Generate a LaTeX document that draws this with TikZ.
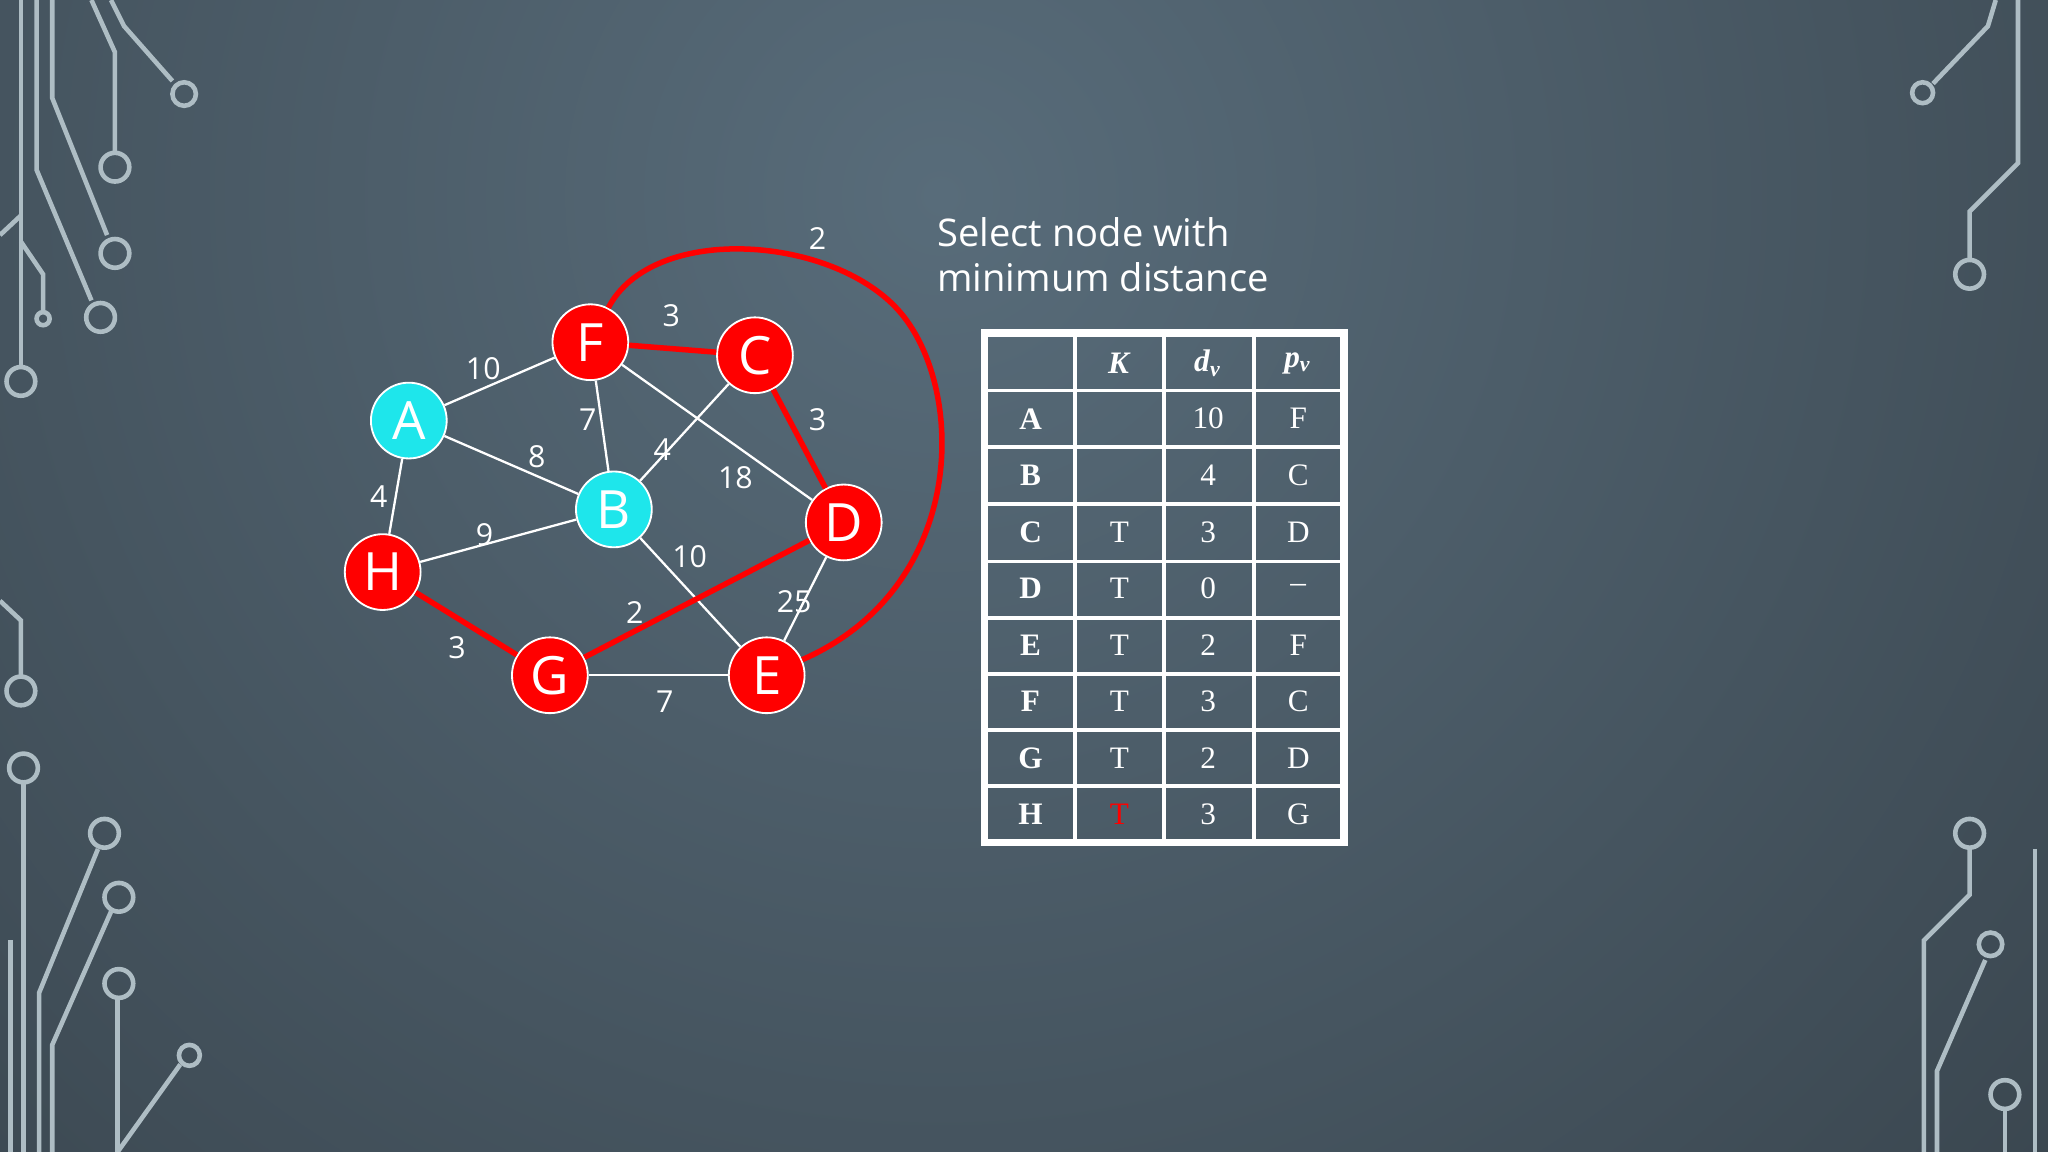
\documentclass[tikz,border=0pt]{standalone}
\usepackage{fontspec}
\setmainfont{Liberation Serif}
\newfontfamily\sans{Open Sans}
\definecolor{bgout}{RGB}{28,32,36}
\definecolor{bgin}{RGB}{88,108,122}
\definecolor{cyv}{RGB}{30,230,235}
\begin{document}
\begin{tikzpicture}[x=0.01cm,y=-0.01cm,
 vtx/.style={circle,draw=white,line width=0.4pt,minimum size=16.5pt,inner sep=0,text=white,font=\sans\fontsize{11.5}{12}\selectfont},
 rd/.style={vtx,fill=red},
 cy/.style={vtx,fill=cyv},
 wl/.style={white,line width=0.5pt},
 rl/.style={red,line width=1.2pt},
 lb/.style={text=white,font=\sans\fontsize{6.6}{7}\selectfont,inner sep=0},
 deco/.style={gray!50!cyan!30!white!80!black,line width=1pt},
 dc/.style={deco,fill=none},
 cell/.style={text=white,font=\fontsize{6.8}{8}\selectfont,inner sep=0}]
\useasboundingbox (0,0) rectangle (1568,882);
\begin{scope}
\clip (0,0) rectangle (1568,882);
\fill[bgout] (0,0) rectangle (1568,882);
\shade[inner color=bgin,outer color=bgout] (720,150) circle (2300);
\end{scope}
% circuit decorations
\draw[deco] (16,0)--(16,280); \draw[dc] (16,292) circle (11);
\draw[deco] (28,0)--(28,130)--(70,230); \draw[dc] (77,243) circle (11);
\draw[deco] (40,0)--(40,75)--(82,180); \draw[dc] (88,194) circle (11);
\draw[deco] (70,0)--(88,40)--(88,116); \draw[dc] (88,128) circle (11);
\draw[deco] (85,0)--(95,20)--(132,62); \draw[dc] (141,72) circle (9);
\draw[deco] (0,180)--(16,165); \draw[deco] (16,185)--(33,210)--(33,240); \draw[dc] (33,244) circle (5);
\draw[deco] (0,460)--(16,475)--(16,518); \draw[dc] (16,529) circle (11);
\draw[deco] (18,600)--(18,882); \draw[dc] (18,588) circle (11);
\draw[deco] (8,720)--(8,882);
\draw[deco] (30,882)--(30,760)--(75,650); \draw[dc] (80,638) circle (11);
\draw[deco] (40,882)--(40,800)--(85,698); \draw[dc] (91,687) circle (11);
\draw[deco] (90,766)--(90,882); \draw[dc] (91,753) circle (11);
\draw[deco] (90,882)--(138,815); \draw[dc] (145,808) circle (8);
\draw[deco] (1528,0)--(1522,20)--(1480,64); \draw[dc] (1472,71) circle (8);
\draw[deco] (1545,0)--(1545,125)--(1508,162)--(1508,198); \draw[dc] (1508,210) circle (11);
\draw[deco] (1508,650)--(1508,685)--(1473,720)--(1473,882); \draw[dc] (1508,638) circle (11);
\draw[deco] (1520,735)--(1483,820)--(1483,882); \draw[dc] (1524,723) circle (9);
\draw[deco] (1535,850)--(1535,882); \draw[dc] (1535,838) circle (11);
\draw[deco] (1558,650)--(1558,882);
% nodes
\node[rd] (F) at (452,262) {F};
\node[rd] (C) at (578,272) {C};
\node[cy] (A) at (313,322) {A};
\node[cy] (B) at (470,390) {B};
\node[rd] (D) at (646,400) {D};
\node[rd] (H) at (293,438) {H};
\node[rd] (G) at (421,517) {G};
\node[rd] (E) at (587,517) {E};
% edges
\draw[wl] (F)--(A); \draw[wl] (A)--(B); \draw[wl] (A)--(H); \draw[wl] (F)--(B);
\draw[wl] (F)--(D); \draw[wl] (C)--(B); \draw[wl] (B)--(H); \draw[wl] (B)--(E);
\draw[wl] (D)--(E); \draw[wl] (G)--(E);
\draw[rl] (F)--(C); \draw[rl] (C)--(D); \draw[rl] (H)--(G); \draw[rl] (G)--(D);
\draw[rl] (F) .. controls (500,170) and (640,180) .. (690,240) .. controls (740,300) and (740,450) .. (E);
% labels
\node[lb] at (370,282) {10}; \node[lb] at (514,242) {3}; \node[lb] at (626,183) {2};
\node[lb] at (450,321) {7}; \node[lb] at (626,321) {3}; \node[lb] at (411,350) {8};
\node[lb] at (507,344) {4}; \node[lb] at (563,366) {18}; \node[lb] at (290,380) {4};
\node[lb] at (371,409) {9}; \node[lb] at (528,426) {10}; \node[lb] at (486,469) {2};
\node[lb] at (608,461) {25}; \node[lb] at (350,496) {3}; \node[lb] at (509,537) {7};
% title
\node[anchor=west,text=white,font=\sans\fontsize{8.3}{10}\selectfont,align=left,inner sep=0] (t) at (717,195) {Select node with\\minimum distance};
% table
\draw[white,line width=1.6pt] (754,255) rectangle (1029,645);
\foreach \x in {823,891,960} \draw[white,line width=0.8pt] (\x,255)--(\x,645);
\foreach \y in {299,342,386,430,473,516,559,602} \draw[white,line width=0.8pt] (754,\y)--(1029,\y);
\node[cell] at (857,278) {\textbf{\textit{K}}};
\node[cell] at (925,278) {\textbf{\textit{d}}\textsubscript{\textbf{\textit{v}}}};
\node[cell] at (994,278) {\textbf{\textit{p}}\textsubscript{\textbf{\textit{v}}}};
\foreach \r/\k/\d/\p [count=\i] in {A//10/F,B//4/C,C/T/3/D,D/T/0/--,E/T/2/F,F/T/3/C,G/T/2/D,H/{\textcolor{red}{T}}/3/G}{
 \pgfmathsetmacro\yy{299+43.3*(\i-1)+21.6}
 \node[cell] at (789,\yy) {\textbf{\r}};
 \node[cell] at (857,\yy) {\k};
 \node[cell] at (925,\yy) {\d};
 \node[cell] at (994,\yy) {\p};
}
\end{tikzpicture}
\end{document}
